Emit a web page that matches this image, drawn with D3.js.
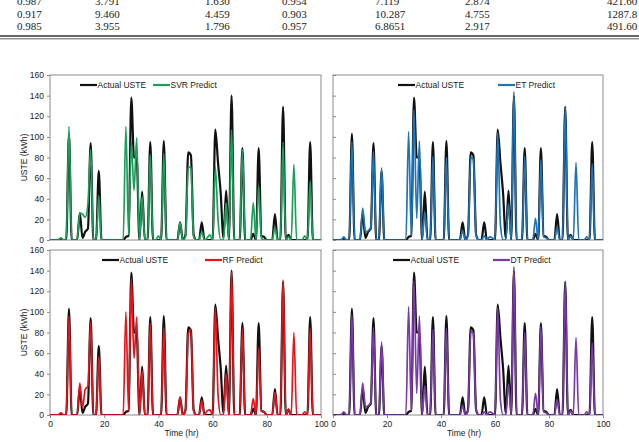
<!DOCTYPE html>
<html>
<head>
<meta charset="utf-8">
<script src="https://cdn.jsdelivr.net/npm/d3@7"></script>
<style>
  body { margin: 0; background: #fff; }
  svg { display: block; }
  .tick text { font-family: "Liberation Sans", Arial, sans-serif; font-size: 8.5px; fill: #222; }
</style>
</head>
<body>
<svg id="chart"></svg>
<script>
// table fragment at the top (three rows, last column cut off)
const tableRows = [
  ['0.987', '3.791', '1.630', '0.954', '7.119', '2.874', '421.60'],
  ['0.917', '9.460', '4.459', '0.903', '10.287', '4.755', '1287.8'],
  ['0.985', '3.955', '1.796', '0.957', '6.8651', '2.917', '491.60']
];

// hourly values, hours 0..100
const hours = d3.range(0, 101);
const actual = [0,0,0,0,1,0,0,103,0,0, 0,26,2,8,11,94,0,0,67,0, 0,0,0,0,0,0,0,0,3,4, 138,80,80,0,47,0,0,95,0,0,
  0,0,96,0,0,0,0,0,17,0, 5,85,82,5,0,0,17,0,0,0, 0,107,75,45,2,48,0,140,0,0, 0,89,0,0,0,6,0,89,4,3,
  0,0,0,25,0,0,129,0,5,0, 0,0,0,0,0,0,95,0,0,0, 0];
const svr = [0,0,0,0,2,0,0,110,0,0, 0,26,25,22,35,88,0,0,43,0, 0,0,0,0,0,0,0,0,110,5, 95,48,99,0,42,0,0,83,0,0,
  4,0,84,0,0,0,0,0,17,0, 3,71,70,3,0,0,8,0,2,5, 0,71,20,0,0,36,0,107,0,0, 0,88,0,0,0,36,0,52,2,0,
  0,0,0,12,0,0,95,0,3,0, 73,0,0,0,4,0,57,0,0,0, 0];
const et = [0,0,0,0,3,0,0,95,0,0, 0,31,8,9,12,86,0,0,70,0, 0,0,0,0,0,0,0,0,105,4, 126,21,96,0,27,0,0,81,0,0,
  0,0,80,0,0,0,0,0,9,0, 4,80,78,4,0,0,4,0,3,2, 0,104,15,0,0,35,0,144,0,0, 0,81,0,0,0,21,0,78,3,2,
  0,0,0,12,0,0,129,0,4,0, 75,0,0,0,3,0,74,0,0,0, 0];
const rf = [0,0,0,0,2,0,0,96,0,0, 0,31,7,25,28,90,0,0,57,0, 0,0,0,0,0,0,0,0,100,4, 132,55,95,0,43,0,0,89,0,0,
  0,0,85,0,0,0,0,0,17,0, 4,78,83,4,0,0,14,0,4,5, 0,104,20,0,0,40,0,139,0,0, 0,84,0,0,0,16,0,65,4,3,
  0,0,0,22,0,0,131,0,6,0, 80,0,0,0,3,0,84,0,0,0, 0];
const dt = [0,0,0,0,3,0,0,97,0,0, 0,31,8,9,12,85,0,0,71,0, 0,0,0,0,0,0,0,0,105,4, 130,21,96,0,28,0,0,83,0,0,
  0,0,84,0,0,0,0,0,9,0, 4,81,79,4,0,0,3,0,3,2, 0,104,15,0,0,30,0,144,0,0, 0,80,0,0,0,21,0,86,3,2,
  0,0,0,15,0,0,129,0,4,0, 75,0,0,0,3,0,70,0,0,0, 0];

const modelNames = ['SVR Predict', 'ET Predict', 'RF Predict', 'DT Predict'];
const modelColors = ['#1aa05a', '#1f73b7', '#e8141c', '#7a3aa8'];
const yTicks = [0, 20, 40, 60, 80, 100, 120, 140, 160];
const xTicks = [0, 20, 40, 60, 80, 100];

const W = 639, H = 442;
const font = '"Liberation Sans", Arial, sans-serif';
const svg = d3.select('#chart').attr('width', W).attr('height', H);
svg.append('rect').attr('width', W).attr('height', H).attr('fill', '#fff');

// ---- table ----
const colX = [17, 95, 205, 282, 375, 465, 607];
const rowY = [5, 17.5, 29.5];
tableRows.forEach((row, i) => {
  row.forEach((v, j) => {
    svg.append('text')
      .attr('x', colX[j]).attr('y', rowY[i])
      .style('font-family', '"Liberation Serif", "Times New Roman", serif')
      .style('font-size', '11px')
      .attr('fill', '#222')
      .text(v);
  });
});
svg.append('line').attr('x1', 0).attr('x2', W).attr('y1', 36).attr('y2', 36)
  .attr('stroke', '#333').attr('stroke-width', 1.6);
svg.append('line').attr('x1', 0).attr('x2', W).attr('y1', 38.8).attr('y2', 38.8)
  .attr('stroke', '#333').attr('stroke-width', 0.8);

// ---- panels ----
const panels = [
  {x0: 50, x1: 321, y0: 75, y1: 240, pred: svr, m: 0, left: true, bottom: false, legX: [80, 153]},
  {x0: 333, x1: 603, y0: 75, y1: 240, pred: et, m: 1, left: false, bottom: false, legX: [398, 498]},
  {x0: 50, x1: 321, y0: 250, y1: 415, pred: rf, m: 2, left: true, bottom: true, legX: [102, 205]},
  {x0: 333, x1: 603, y0: 250, y1: 415, pred: dt, m: 3, left: false, bottom: true, legX: [393, 493]}
];

panels.forEach(p => {
  const x = d3.scaleLinear().domain([0, 100]).range([p.x0, p.x1]);
  const y = d3.scaleLinear().domain([0, 160]).range([p.y1, p.y0]);

  const g = svg.append('g');

  // y axis
  const yAxis = p.left
    ? d3.axisLeft(y).tickValues(yTicks).tickSize(3).tickPadding(3)
    : d3.axisLeft(y).tickValues(yTicks).tickSize(-3).tickFormat('');
  g.append('g').attr('transform', `translate(${p.x0},0)`).call(yAxis)
    .call(a => a.select('.domain').remove())
    .call(a => a.selectAll('.tick line').attr('stroke', '#888'));

  // x axis
  if (p.bottom) {
    g.append('g').attr('transform', `translate(0,${p.y1})`)
      .call(d3.axisBottom(x).tickValues(xTicks).tickSize(3).tickPadding(3))
      .call(a => a.select('.domain').remove())
      .call(a => a.selectAll('.tick line').attr('stroke', '#888'));
    g.append('text')
      .attr('x', (p.x0 + p.x1) / 2 - 4).attr('y', 436)
      .attr('text-anchor', 'middle')
      .style('font-family', font).style('font-size', '8.5px').attr('fill', '#222')
      .text('Time (hr)');
  }
  if (p.left) {
    g.append('text')
      .attr('transform', `translate(27,${(p.y0 + p.y1) / 2}) rotate(-90)`)
      .attr('text-anchor', 'middle')
      .style('font-family', font).style('font-size', '8.5px').attr('fill', '#222')
      .text('USTE (kWh)');
  }

  // frame
  g.append('rect')
    .attr('x', p.x0).attr('y', p.y0)
    .attr('width', p.x1 - p.x0).attr('height', p.y1 - p.y0)
    .attr('fill', 'none').attr('stroke', '#8a8a8a').attr('stroke-width', 1);

  const clipId = 'clip' + p.m;
  svg.append('clipPath').attr('id', clipId)
    .append('rect').attr('x', p.x0).attr('y', p.y0 - 2)
    .attr('width', p.x1 - p.x0).attr('height', p.y1 - p.y0 + 2);

  const line = d3.line()
    .x((d, i) => x(hours[i]))
    .y(d => y(d))
    .curve(d3.curveMonotoneX);

  g.append('path').datum(actual)
    .attr('clip-path', `url(#${clipId})`)
    .attr('d', line).attr('fill', 'none')
    .attr('stroke', '#111').attr('stroke-width', 2.2).attr('stroke-linejoin', 'round');
  g.append('path').datum(p.pred)
    .attr('clip-path', `url(#${clipId})`)
    .attr('d', line).attr('fill', 'none')
    .attr('stroke', modelColors[p.m]).attr('stroke-width', 1.7).attr('stroke-linejoin', 'round');

  // legend
  const ly = p.y0 + 10;
  const items = [['Actual USTE', '#111'], [modelNames[p.m], modelColors[p.m]]];
  items.forEach((it, k) => {
    const lx = p.legX[k];
    g.append('line').attr('x1', lx).attr('x2', lx + 17).attr('y1', ly).attr('y2', ly)
      .attr('stroke', it[1]).attr('stroke-width', 2.2);
    g.append('text').attr('x', lx + 17.5).attr('y', ly + 3)
      .style('font-family', font).style('font-size', '8.5px').attr('fill', '#222')
      .text(it[0]);
  });
});
</script>
</body>
</html>
